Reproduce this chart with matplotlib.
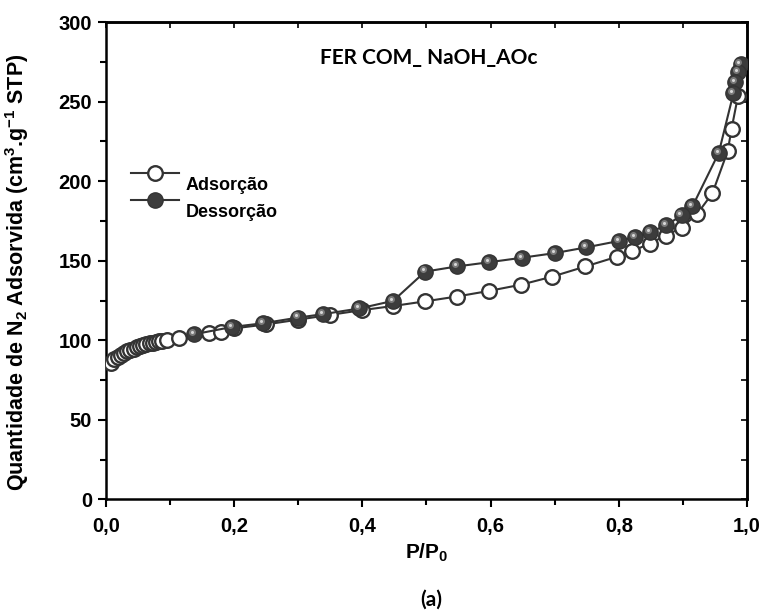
import matplotlib
matplotlib.use("Agg")
import matplotlib.pyplot as plt
from matplotlib.ticker import MultipleLocator, FuncFormatter
from matplotlib.transforms import offset_copy

plt.rcParams['font.family'] = ['Liberation Sans', 'DejaVu Sans']
plt.rcParams['font.weight'] = 'bold'
plt.rcParams['mathtext.fontset'] = 'custom'
plt.rcParams['mathtext.rm'] = 'Liberation Sans:bold'
plt.rcParams['mathtext.bf'] = 'Liberation Sans:bold'
plt.rcParams['mathtext.default'] = 'bf'

# adsorption branch (open circles)
ads_p = [0.008, 0.013, 0.018, 0.023, 0.028, 0.033, 0.038, 0.043, 0.048, 0.053,
         0.058, 0.063, 0.068, 0.073, 0.078, 0.083, 0.088, 0.095, 0.114, 0.161,
         0.18, 0.2, 0.25, 0.3, 0.35, 0.4, 0.447, 0.498, 0.547, 0.597, 0.648,
         0.696, 0.748, 0.797, 0.821, 0.848, 0.873, 0.898, 0.922, 0.946, 0.97,
         0.976, 0.986]
ads_v = [86.0, 88.0, 89.5, 90.8, 92.0, 93.0, 94.0, 94.8, 95.5, 96.2,
         96.8, 97.4, 98.0, 98.5, 99.0, 99.4, 99.8, 100.3, 101.5, 104.4,
         105.4, 107.5, 110.0, 113.0, 116.0, 119.0, 121.5, 124.5, 127.5, 131.0, 135.0,
         140.0, 146.4, 152.5, 156.0, 160.8, 165.8, 170.8, 179.3, 192.3, 219.0,
         233.0, 253.5]

# desorption branch (filled spheres)
des_p = [0.99, 0.986, 0.982, 0.979, 0.956, 0.915, 0.898, 0.874, 0.849, 0.826,
         0.801, 0.749, 0.7, 0.649, 0.598, 0.547, 0.498, 0.448, 0.395, 0.338,
         0.3, 0.245, 0.197, 0.1375]
des_v = [273.5, 268.6, 262.3, 255.4, 217.8, 184.2, 178.5, 172.3, 168.0, 165.0,
         162.5, 158.4, 154.8, 151.9, 149.1, 146.4, 143.2, 124.8, 120.0, 116.4,
         114.3, 110.7, 108.4, 103.8]

fig = plt.figure(figsize=(7.65, 6.15), dpi=100)
ax = fig.add_axes([0.1386, 0.188, 0.8378, 0.776])

line_c = '#333333'
ax.plot(ads_p, ads_v, '-', color=line_c, lw=1.5, marker='o', ms=10.5,
        mfc='white', mec=line_c, mew=1.7, label='Adsorção', zorder=3)
ax.plot(des_p, des_v, '-', color=line_c, lw=1.5, marker='o', ms=11,
        mfc='#3c3c3c', mec='#333333', mew=1.0, label='Dessorção', zorder=4)
# sphere highlight
hl = offset_copy(ax.transData, fig=fig, x=-1.5, y=1.5, units='points')
ax.plot(des_p, des_v, 'o', ms=5, mfc='#7a7a7a', mec='none', transform=hl, zorder=5)
ax.plot(des_p, des_v, 'o', ms=2.2, mfc='#d8d8d8', mec='none', transform=hl, zorder=6)

ax.set_xlim(0, 1.0)
ax.set_ylim(0, 300)
ax.xaxis.set_major_locator(MultipleLocator(0.2))
ax.xaxis.set_minor_locator(MultipleLocator(0.1))
ax.yaxis.set_major_locator(MultipleLocator(50))
ax.yaxis.set_minor_locator(MultipleLocator(25))
ax.xaxis.set_major_formatter(FuncFormatter(lambda v, p: ('%.1f' % v).replace('.', ',')))
ax.tick_params(which='both', direction='out', top=False, right=False, width=1.5)
ax.tick_params(which='major', length=6, labelsize=14.5, pad=4)
ax.tick_params(axis='x', which='major', pad=7)
ax.tick_params(which='minor', length=4)
for lab in ax.get_xticklabels() + ax.get_yticklabels():
    lab.set_fontweight('bold')

# inward ticks on top and right
ax_t = ax.secondary_xaxis('top')
ax_t.xaxis.set_major_locator(MultipleLocator(0.1))
ax_t.tick_params(direction='in', length=4, width=1.2, labeltop=False)
ax_r = ax.secondary_yaxis('right')
ax_r.yaxis.set_major_locator(MultipleLocator(25))
ax_r.tick_params(direction='in', length=4, width=1.2, labelright=False)

for s in ax.spines.values():
    s.set_linewidth(1.8)
ax_t.spines['top'].set_linewidth(1.8)
ax_r.spines['right'].set_linewidth(1.8)

ax.set_xlabel('P/P$_0$', fontsize=15, fontweight='bold')
ax.xaxis.set_label_coords(0.5, -0.088)
ax.set_ylabel('Quantidade de N$_2$ Adsorvida (cm$^3$.g$^{-1}$ STP)',
              fontsize=15.5, fontweight='bold')
ax.yaxis.set_label_coords(-0.117, 0.476)

ax.text(0.503, 0.924, 'FER COM_ NaOH_AOc', transform=ax.transAxes, ha='center', va='center',
        fontsize=15, fontweight='bold', family=['Lato', 'DejaVu Sans'])

leg = ax.legend(loc='upper left', bbox_to_anchor=(0.027, 0.712), frameon=False, fontsize=13,
                handlelength=2.7, handletextpad=0.35, labelspacing=0.55, borderaxespad=0)
for t in leg.get_texts():
    t.set_y(-10)

fig.text(0.5635, 0.025, '(a)', ha='center', va='center', fontsize=15, fontweight='bold',
         family=['Lato', 'DejaVu Sans'])

fig.savefig('out.png', dpi=100)
